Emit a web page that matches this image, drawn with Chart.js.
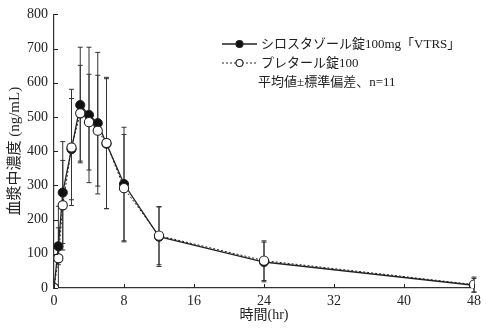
<!DOCTYPE html>
<html>
<head>
<meta charset="utf-8">
<script src="https://cdn.jsdelivr.net/npm/chart.js@4.4.1/dist/chart.umd.min.js"></script>
<style>
  html, body { margin: 0; padding: 0; background: #fff; }
</style>
</head>
<body>
<canvas id="chart" width="486" height="331"></canvas>
<script>
// sampling times (hr) and mean / SD values, ng/mL
const HOURS     = [0, 0.5, 1, 2, 3, 4, 5, 6, 8, 12, 24, 48];
const TEST_MEAN = [0, 122, 279, 406, 535, 506, 482, 422, 304, 150, 76, 8];
const TEST_SD   = [0, 54, 149, 148, 169, 198, 207, 190, 166, 87, 58, 20];
const REF_MEAN  = [0, 87, 242, 411, 511, 485, 460, 424, 292, 153, 80, 10];
const REF_SD    = [0, 152, 131, 170, 140, 140, 162, 192, 157, 85, 58, 22];

const X_TICKS = [0, 8, 16, 24, 32, 40, 48];
const Y_TICKS = [0, 100, 200, 300, 400, 500, 600, 700, 800];

const SERIES_LABELS = ['シロスタゾール錠100mg「VTRS」', 'プレタール錠100'];
const NOTE = '平均値±標準偏差、n=11';
const X_TITLE = '時間(hr)';
const Y_TITLE = '血漿中濃度 (ng/mL)';

const INK = '#222';
const FONT_FAMILY = '"Liberation Serif", "Noto Sans CJK JP", serif';

function toPoints(values) {
  return HOURS.map((h, i) => ({ x: h, y: values[i] }));
}

// mean ± SD whiskers, drawn under the lines
const errorBars = {
  id: 'errorBars',
  beforeDatasetsDraw(chart) {
    const { ctx, scales: { x, y } } = chart;
    ctx.save();
    ctx.strokeStyle = '#333';
    ctx.lineWidth = 1;
    chart.data.datasets.forEach(ds => {
      ds.data.forEach((p, i) => {
        const sd = ds.sd[i];
        if (!sd) return;
        const px = x.getPixelForValue(p.x);
        const hi = p.y + sd;
        let lo = p.y - sd;
        const loCap = lo >= -15;
        if (!loCap) lo = 0;
        const yHi = y.getPixelForValue(hi);
        const yLo = y.getPixelForValue(lo);
        ctx.beginPath();
        ctx.moveTo(px, yHi);
        ctx.lineTo(px, yLo);
        ctx.moveTo(px - 2.5, yHi);
        ctx.lineTo(px + 2.5, yHi);
        if (loCap) {
          ctx.moveTo(px - 2.5, yLo);
          ctx.lineTo(px + 2.5, yLo);
        }
        ctx.stroke();
      });
    });
    ctx.restore();
  }
};

// small tick marks pointing into the plot
const innerTicks = {
  id: 'innerTicks',
  afterDraw(chart) {
    const { ctx, scales: { x, y } } = chart;
    ctx.save();
    ctx.strokeStyle = INK;
    ctx.lineWidth = 1;
    ctx.beginPath();
    X_TICKS.forEach(v => {
      const px = Math.round(x.getPixelForValue(v)) + 0.5;
      ctx.moveTo(px, y.bottom);
      ctx.lineTo(px, y.bottom - 4);
    });
    Y_TICKS.forEach(v => {
      const py = Math.round(y.getPixelForValue(v)) + 0.5;
      ctx.moveTo(x.left, py);
      ctx.lineTo(x.left + 4, py);
    });
    ctx.stroke();
    ctx.restore();
  }
};

// legend in the upper right, with the note line under it
const sideLegend = {
  id: 'sideLegend',
  afterDraw(chart) {
    const { ctx } = chart;
    const rows = [
      { ds: chart.data.datasets[1], y: 44 },
      { ds: chart.data.datasets[0], y: 63 }
    ];
    ctx.save();
    ctx.font = '13px ' + FONT_FAMILY;
    ctx.fillStyle = INK;
    ctx.textBaseline = 'middle';
    rows.forEach(r => {
      const ds = r.ds;
      ctx.strokeStyle = ds.borderColor;
      ctx.lineWidth = ds.borderWidth;
      ctx.setLineDash(ds.borderDash || []);
      ctx.beginPath();
      ctx.moveTo(222, r.y);
      ctx.lineTo(257, r.y);
      ctx.stroke();
      ctx.setLineDash([]);
      ctx.beginPath();
      ctx.arc(239.5, r.y, 3.5, 0, Math.PI * 2);
      ctx.fillStyle = ds.pointBackgroundColor;
      ctx.fill();
      ctx.lineWidth = 1.1;
      ctx.strokeStyle = INK;
      ctx.stroke();
      ctx.fillStyle = INK;
      ctx.fillText(ds.label, 261, r.y + 1);
    });
    ctx.fillText(NOTE, 258, 83);
    ctx.restore();
  }
};

new Chart(document.getElementById('chart'), {
  type: 'line',
  data: {
    datasets: [
      {
        label: SERIES_LABELS[1],
        data: toPoints(REF_MEAN),
        sd: REF_SD,
        borderColor: INK,
        borderWidth: 1,
        borderDash: [2, 2],
        pointRadius: 4.6,
        pointBackgroundColor: '#fff',
        pointBorderColor: INK,
        pointBorderWidth: 1.1,
        order: 0
      },
      {
        label: SERIES_LABELS[0],
        data: toPoints(TEST_MEAN),
        sd: TEST_SD,
        borderColor: INK,
        borderWidth: 1.3,
        pointRadius: 4.6,
        pointBackgroundColor: '#111',
        pointBorderColor: INK,
        pointBorderWidth: 1,
        order: 1
      }
    ]
  },
  options: {
    responsive: false,
    animation: false,
    devicePixelRatio: 1,
    layout: { padding: { top: 10, right: 12, left: 0, bottom: 0 } },
    plugins: {
      legend: { display: false },
      tooltip: { enabled: false }
    },
    scales: {
      x: {
        type: 'linear',
        min: 0,
        max: 48,
        afterBuildTicks: s => { s.ticks = X_TICKS.map(v => ({ value: v })); },
        afterFit: s => { s.height = 43; },
        grid: { display: false, drawTicks: false },
        border: { color: '#333', width: 1.2 },
        ticks: {
          color: INK,
          padding: 5,
          maxRotation: 0,
          font: { family: FONT_FAMILY, size: 14 }
        },
        title: {
          display: true,
          text: X_TITLE,
          color: INK,
          padding: { top: 0, bottom: 7 },
          font: { family: FONT_FAMILY, size: 14 }
        }
      },
      y: {
        min: 0,
        max: 800,
        afterBuildTicks: s => { s.ticks = Y_TICKS.map(v => ({ value: v })); },
        afterFit: s => { s.width = 54; },
        grid: { display: false, drawTicks: false },
        border: { color: '#333', width: 1.2 },
        ticks: {
          color: INK,
          padding: 6,
          font: { family: FONT_FAMILY, size: 14 }
        },
        title: {
          display: true,
          text: Y_TITLE,
          color: INK,
          padding: { top: 6, bottom: 0 },
          font: { family: FONT_FAMILY, size: 15 }
        }
      }
    }
  },
  plugins: [errorBars, innerTicks, sideLegend]
});
</script>
</body>
</html>
